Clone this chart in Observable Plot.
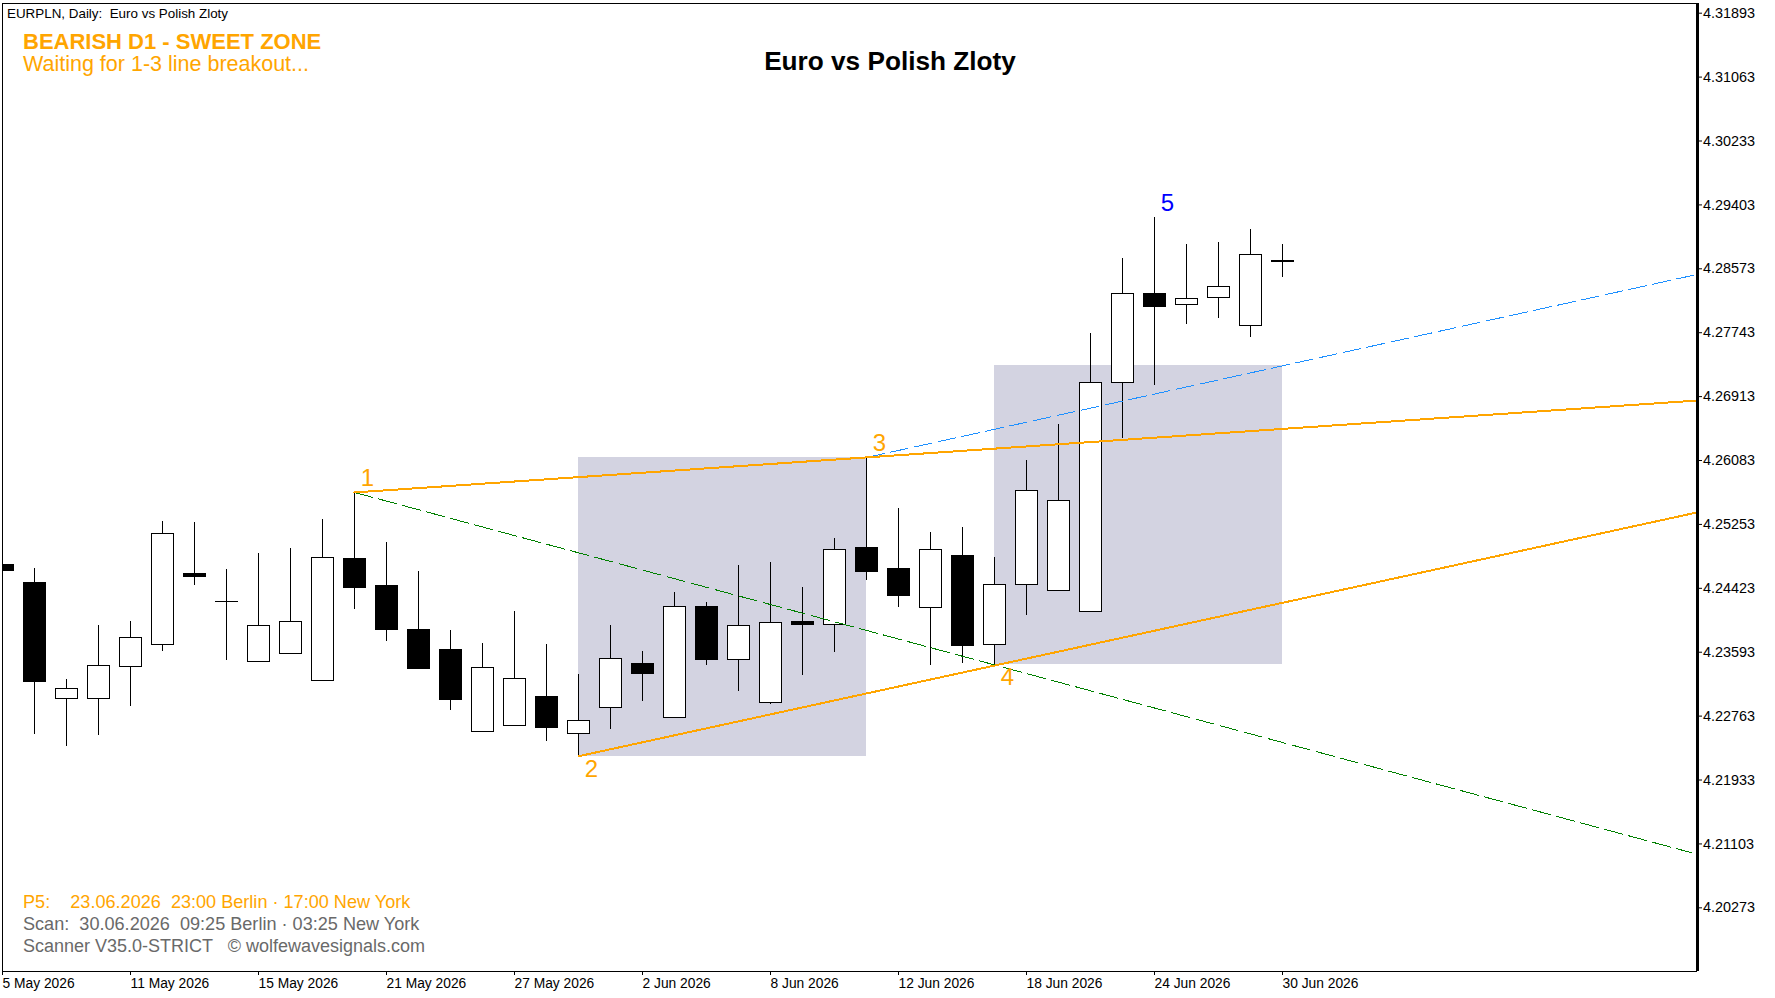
<!DOCTYPE html>
<html><head><meta charset="utf-8">
<script src="https://cdn.jsdelivr.net/npm/d3@7"></script>
<script src="https://cdn.jsdelivr.net/npm/@observablehq/plot@0.6"></script>
<style>html,body{margin:0;padding:0;background:#fff}svg{display:block}</style>
</head><body><div id="chart"></div>
<script>
const opens = [4.24732,4.24498,4.22983,4.22983,4.23398,4.23676,4.24615,4.24245,4.23463,4.23567,4.23216,4.24810,4.24460,4.23888,4.23628,4.22554,4.22632,4.23018,4.22528,4.22866,4.23446,4.22736,4.24187,4.23489,4.22931,4.23992,4.23944,4.24953,4.24680,4.24165,4.24849,4.23684,4.24463,4.24385,4.24113,4.27087,4.28252,4.28100,4.28191,4.27827,4.28675];
const closes = [4.24641,4.23203,4.23118,4.23417,4.23780,4.25131,4.24563,4.24251,4.23936,4.23988,4.24819,4.24420,4.23875,4.23368,4.22966,4.23391,4.23248,4.22602,4.22702,4.23507,4.23303,4.24183,4.23485,4.23936,4.23975,4.23940,4.24923,4.24628,4.24317,4.24923,4.23667,4.24469,4.25690,4.25560,4.27092,4.28248,4.28070,4.28183,4.28339,4.28755,4.28660];
const highs = [4.24732,4.24680,4.23239,4.23940,4.23992,4.25291,4.25278,4.24667,4.24875,4.24940,4.25317,4.25668,4.25018,4.24641,4.23875,4.23706,4.24122,4.23693,4.23303,4.23940,4.23602,4.24369,4.24239,4.24719,4.24758,4.24434,4.25070,4.26122,4.25460,4.25148,4.25213,4.24823,4.26083,4.26551,4.27733,4.28707,4.29240,4.28889,4.28915,4.29083,4.28889];
const lows = [4.24641,4.22528,4.22372,4.22515,4.22892,4.23602,4.24463,4.23489,4.23463,4.23567,4.23216,4.24152,4.23732,4.23368,4.22836,4.22554,4.22632,4.22433,4.22242,4.22589,4.22953,4.22736,4.23420,4.23083,4.22914,4.23291,4.23589,4.24524,4.24174,4.23420,4.23446,4.23433,4.24070,4.24385,4.24113,4.26369,4.27057,4.27849,4.27927,4.27680,4.28460];

const dateTicks = [0,4,8,12,16,20,24,28,32,36,40];
const dateLabels = ["5 May 2026","11 May 2026","15 May 2026","21 May 2026","27 May 2026","2 Jun 2026","8 Jun 2026","12 Jun 2026","18 Jun 2026","24 Jun 2026","30 Jun 2026"];
const priceTicks = [4.31893,4.31063,4.30233,4.29403,4.28573,4.27743,4.26913,4.26083,4.25253,4.24423,4.23593,4.22763,4.21933,4.21103,4.20273];

const waveLabels = ["1","2","3","4","5"];
const waveBars = [11,18,27,31,36];
const wavePrices = [4.25668,4.22242,4.26122,4.23433,4.29240];
const waveColors = ["#ffa500","#ffa500","#ffa500","#ffa500","#0000ff"];
const waveAbove = [true,false,true,false,true];

const zoneBars = [[18,27],[31,40]];
const zonePrices = [[4.22242,4.26122],[4.23433,4.27317]];

const line13 = {bars:[11,52.95],prices:[4.25668,4.26862]};
const line24 = {bars:[18,52.95],prices:[4.22242,4.25408]};
const line14 = {bars:[11,52.79],prices:[4.25668,4.20988]};
const line35 = {bars:[27,52.95],prices:[4.26122,4.28499]};

const barsDomainEnd = 52.96875;
const priceDomain = [4.19446,4.320255];
const halfStroke = 0.000065;

const bars = opens.map((o,i)=>{
  const c = closes[i], top = Math.max(o,c), bot = Math.min(o,c);
  const thick = top-bot > 2.5*halfStroke;
  return {i,o,c,h:highs[i],l:lows[i],top:thick?top-halfStroke:top,bot:thick?bot+halfStroke:bot};
});
const zones = zoneBars.map((b,k)=>({x1:b[0],x2:b[1],y1:zonePrices[k][0],y2:zonePrices[k][1]}));
const seg = l => l.bars.map((b,k)=>({x:b,y:l.prices[k]}));
const waves = waveLabels.map((t,k)=>({t,x:waveBars[k],y:wavePrices[k],c:waveColors[k],a:waveAbove[k]}));
const halfBody = 11/32;
const font = "Liberation Sans";
const note = (text,dx,dy,o={}) => Plot.text([text],{text:d=>d,frameAnchor:"top-left",textAnchor:"start",lineAnchor:"bottom",dx,dy,fontFamily:font,...o});

const chart = Plot.plot({
  width:1775,height:998,
  marginLeft:2,marginRight:78,marginTop:2.5,marginBottom:27,
  x:{domain:[0,barsDomainEnd],label:null},
  y:{domain:priceDomain,label:null},
  style:{fontFamily:font,background:"#fff",overflow:"visible"},
  marks:[
    Plot.rect(zones,{x1:"x1",x2:"x2",y1:"y1",y2:"y2",fill:"#d3d3e1",shapeRendering:"crispEdges"}),
    Plot.ruleX(bars,{x:"i",y1:"l",y2:"h",stroke:"#000",strokeWidth:1,shapeRendering:"crispEdges",clip:true}),
    Plot.rect(bars,{x1:d=>d.i-halfBody,x2:d=>d.i+halfBody,y1:"bot",y2:"top",fill:d=>d.c>=d.o?"#fff":"#000",stroke:"#000",strokeWidth:1,shapeRendering:"crispEdges",clip:true}),
    Plot.line(seg(line14),{x:"x",y:"y",stroke:"#008000",strokeWidth:1,strokeDasharray:"18.5,6.4",shapeRendering:"crispEdges"}),
    Plot.line(seg(line35),{x:"x",y:"y",stroke:"#1e90ff",strokeWidth:1,strokeDasharray:"18,6.4",shapeRendering:"crispEdges"}),
    Plot.line(seg(line13),{x:"x",y:"y",stroke:"#ffa500",strokeWidth:2,shapeRendering:"crispEdges"}),
    Plot.line(seg(line24),{x:"x",y:"y",stroke:"#ffa500",strokeWidth:2,shapeRendering:"crispEdges"}),
    Plot.text(waves,{x:"x",y:"y",text:"t",fill:"c",fontSize:24,fontFamily:font,dx:13,dy:-14,lineAnchor:"middle",filter:d=>d.a}),
    Plot.text(waves,{x:"x",y:"y",text:"t",fill:"c",fontSize:24,fontFamily:font,dx:13,dy:13,lineAnchor:"middle",filter:d=>!d.a}),
    Plot.ruleX([0],{stroke:"#000",strokeWidth:1,shapeRendering:"crispEdges"}),
    Plot.ruleY([priceDomain[1]],{stroke:"#000",strokeWidth:1,shapeRendering:"crispEdges"}),
    Plot.ruleY([priceDomain[0]],{stroke:"#000",strokeWidth:1,shapeRendering:"crispEdges"}),
    Plot.ruleX([barsDomainEnd],{stroke:"#000",strokeWidth:2.5,shapeRendering:"crispEdges"}),
    Plot.axisY({anchor:"right",ticks:priceTicks,tickFormat:d=>d.toFixed(5),tickSize:4,tickPadding:1.5,fontSize:14.4,fontFamily:font,label:null,fill:"#000",stroke:"#000"}),
    Plot.axisX({anchor:"bottom",ticks:dateTicks,tickFormat:i=>dateLabels[dateTicks.indexOf(i)],tickSize:4,tickPadding:3,fontSize:13.8,fontFamily:font,label:null,textAnchor:"start",fill:"#000",stroke:"#000"}),
    note("EURPLN, Daily:  Euro vs Polish Zloty",4.5,14.5,{fontSize:13.4,fill:"#000"}),
    note("BEARISH D1 - SWEET ZONE",20.5,45.5,{fontSize:22,fontWeight:"bold",fill:"#ffa500"}),
    note("Waiting for 1-3 line breakout...",20.5,68,{fontSize:21.5,fill:"#ffa500"}),
    note("Euro vs Polish Zloty",887.5,66.5,{fontSize:26.2,fontWeight:"bold",fill:"#000",textAnchor:"middle"}),
    note("P5:    23.06.2026  23:00 Berlin · 17:00 New York",20.5,904.5,{fontSize:18.1,fill:"#ffa500"}),
    note("Scan:  30.06.2026  09:25 Berlin · 03:25 New York",20.5,926.5,{fontSize:18.1,fill:"#696969"}),
    note("Scanner V35.0-STRICT   © wolfewavesignals.com",20.5,949,{fontSize:18,fill:"#696969"})
  ]
});
document.getElementById("chart").appendChild(chart);
</script></body></html>
